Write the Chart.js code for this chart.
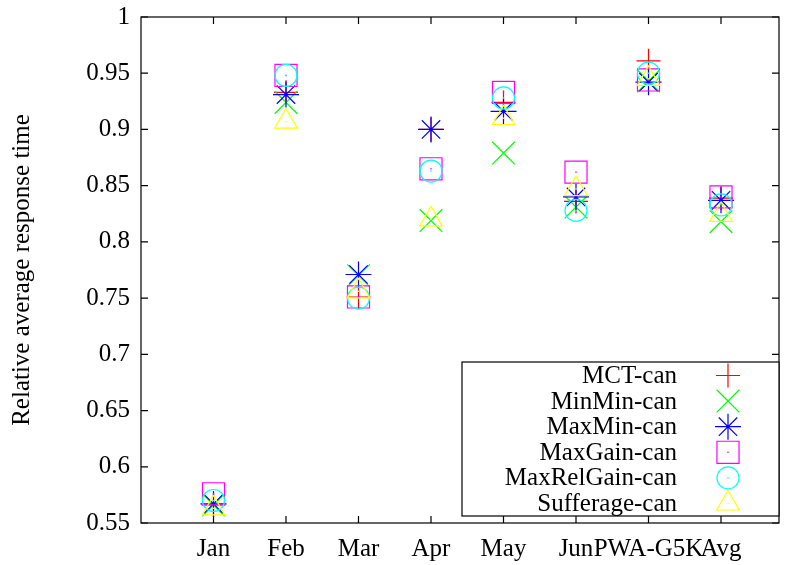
<!DOCTYPE html>
<html>
<head>
<meta charset="utf-8">
<script src="https://cdn.jsdelivr.net/npm/chart.js@4/dist/chart.umd.min.js"></script>
<style>
  html, body { margin: 0; padding: 0; background: #fff; }
  #wrap { width: 786px; height: 565px; }
</style>
</head>
<body>
<div id="wrap"><canvas id="c" width="786" height="565"></canvas></div>
<script>
const categories = ['Jan', 'Feb', 'Mar', 'Apr', 'May', 'Jun', 'PWA-G5K', 'Avg'];
const yTicks = [0.55, 0.6, 0.65, 0.7, 0.75, 0.8, 0.85, 0.9, 0.95, 1];
const seriesNames = ['MCT-can', 'MinMin-can', 'MaxMin-can', 'MaxGain-can', 'MaxRelGain-can', 'Sufferage-can'];
const mct        = [0.566, 0.933, 0.751, 0.900, 0.924, 0.836, 0.961, 0.839];
const minmin     = [0.566, 0.924, 0.770, 0.819, 0.879, 0.831, 0.943, 0.818];
const maxmin     = [0.567, 0.931, 0.771, 0.900, 0.916, 0.840, 0.942, 0.837];
const maxgain    = [0.576, 0.948, 0.751, 0.865, 0.933, 0.862, 0.944, 0.840];
const maxrelgain = [0.570, 0.948, 0.750, 0.863, 0.928, 0.828, 0.950, 0.833];
const sufferage  = [0.563, 0.907, 0.756, 0.820, 0.910, 0.847, 0.945, 0.824];

const seriesValues = [mct, minmin, maxmin, maxgain, maxrelgain, sufferage];
const colors = ['#ff0000', '#00ff00', '#0000ff', '#ff00ff', '#00ffff', '#ffff00'];
const styles = ['cross', 'crossRot', 'star', 'rect', 'circle', 'triangle'];
const radii = [12, 16, 13, 15.6, 11, 13];
const centerDot = [false, false, false, true, true, true];

const FONT = "'Liberation Serif', 'Times New Roman', serif";

const datasets = seriesNames.map((name, i) => ({
  label: name,
  data: seriesValues[i].map((v, j) => ({ x: j + 1, y: v })),
  borderColor: colors[i],
  backgroundColor: 'rgba(0,0,0,0)',
  pointStyle: styles[i],
  pointRadius: radii[i],
  pointHoverRadius: radii[i],
  pointBorderWidth: 1.2,
  showLine: false,
  order: seriesNames.length - i
}));

const framePlugin = {
  id: 'frame',
  beforeDatasetsDraw(chart) {
    const ctx = chart.ctx, a = chart.chartArea;
    const xs = chart.scales.x, ys = chart.scales.y;
    ctx.save();
    ctx.strokeStyle = '#000';
    ctx.lineWidth = 1.2;
    ctx.strokeRect(a.left, a.top, a.right - a.left, a.bottom - a.top);
    ctx.beginPath();
    const tl = 7;
    categories.forEach((c, i) => {
      const px = xs.getPixelForValue(i + 1);
      ctx.moveTo(px, a.bottom); ctx.lineTo(px, a.bottom - tl);
      ctx.moveTo(px, a.top); ctx.lineTo(px, a.top + tl);
    });
    yTicks.forEach(v => {
      const py = ys.getPixelForValue(v);
      ctx.moveTo(a.left, py); ctx.lineTo(a.left + tl, py);
      ctx.moveTo(a.right, py); ctx.lineTo(a.right - tl, py);
    });
    ctx.stroke();
    ctx.restore();
  },
  afterDatasetsDraw(chart) {
    const ctx = chart.ctx;
    ctx.save();
    chart.data.datasets.forEach((ds, i) => {
      if (!centerDot[i]) return;
      const meta = chart.getDatasetMeta(i);
      ctx.fillStyle = colors[i];
      meta.data.forEach(pt => {
        ctx.fillRect(pt.x - 0.7, pt.y - 0.7, 1.4, 1.4);
      });
    });
    ctx.restore();
  }
};

const legendPlugin = {
  id: 'gpLegend',
  afterDraw(chart) {
    const ctx = chart.ctx, a = chart.chartArea;
    const boxL = 462, boxR = a.right, boxT = 362, boxB = 516;
    ctx.save();
    ctx.fillStyle = '#fff';
    ctx.fillRect(boxL, boxT, boxR - boxL, boxB - boxT);
    ctx.strokeStyle = '#000';
    ctx.lineWidth = 1.2;
    ctx.strokeRect(boxL, boxT, boxR - boxL, boxB - boxT);
    ctx.font = '25px ' + FONT;
    ctx.textAlign = 'right';
    ctx.textBaseline = 'middle';
    const rowH = 25.6, firstY = 375.5;
    seriesNames.forEach((name, i) => {
      const y = firstY + i * rowH;
      ctx.fillStyle = '#000';
      ctx.fillText(name, 677, y + 1);
      ctx.strokeStyle = colors[i];
      ctx.fillStyle = 'rgba(0,0,0,0)';
      ctx.lineWidth = 1.2;
      Chart.helpers.drawPoint(ctx, { pointStyle: styles[i], radius: radii[i], rotation: 0, borderWidth: 1.2 }, 728, y);
      if (centerDot[i]) {
        ctx.fillStyle = colors[i];
        ctx.fillRect(728 - 0.7, y - 0.7, 1.4, 1.4);
      }
    });
    ctx.restore();
  }
};

new Chart(document.getElementById('c'), {
  type: 'scatter',
  data: { datasets },
  options: {
    responsive: false,
    animation: false,
    layout: { autoPadding: false, padding: { top: 17, right: 7, left: 0, bottom: 0 } },
    plugins: { legend: { display: false }, tooltip: { enabled: false } },
    scales: {
      x: {
        type: 'linear',
        min: 0,
        max: 8.8,
        grid: { display: false, drawTicks: false },
        border: { display: false },
        afterBuildTicks: s => { s.ticks = categories.map((c, i) => ({ value: i + 1 })); },
        afterFit: s => { s.height = 42; s.paddingLeft = 0; s.paddingRight = 0; },
        ticks: {
          autoSkip: false,
          maxRotation: 0,
          padding: 11,
          color: '#000',
          font: { family: FONT, size: 25 },
          callback: v => categories[Math.round(v) - 1] || ''
        }
      },
      y: {
        min: 0.55,
        max: 1,
        grid: { display: false, drawTicks: false },
        border: { display: false },
        afterBuildTicks: s => { s.ticks = yTicks.map(v => ({ value: v })); },
        afterFit: s => { s.width = 141; s.paddingTop = 0; s.paddingBottom = 0; },
        ticks: {
          padding: 11,
          color: '#000',
          font: { family: FONT, size: 25 },
          callback: v => String(+v.toFixed(2))
        },
        title: {
          display: true,
          text: 'Relative average response time',
          color: '#000',
          font: { family: FONT, size: 25 },
          padding: { top: 7, bottom: 0 }
        }
      }
    }
  },
  plugins: [framePlugin, legendPlugin]
});
</script>
</body>
</html>
